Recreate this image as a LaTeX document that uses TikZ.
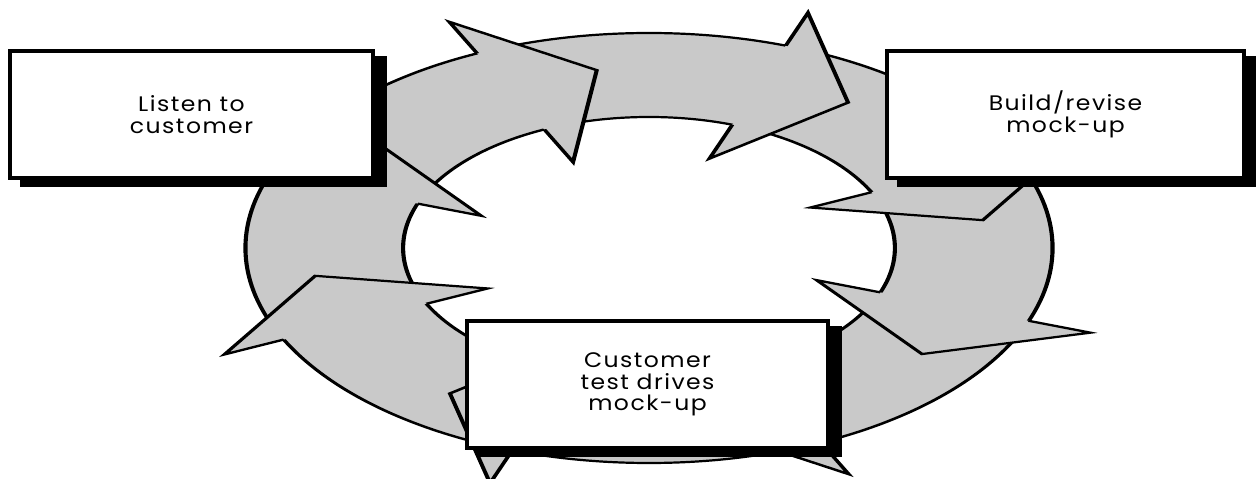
\documentclass[tikz,border=0pt]{standalone}
\usepackage{fontspec}
\newfontfamily\boxfont[FakeStretch=1.12,LetterSpace=7]{Poppins}
\usetikzlibrary{shadows}
\definecolor{ringgray}{RGB}{201,201,201}
\tikzset{
  stagebox/.style={draw=black, line width=4pt, fill=white, rectangle, inner sep=0pt,
    minimum height=127pt, align=center,
    font=\boxfont\fontsize{21}{21.5}\selectfont,
    drop shadow={shadow xshift=12pt, shadow yshift=-7pt, fill=black, draw=black,
      line width=4pt, opacity=1}},
  ringline/.style={line width=2.2pt, line join=miter}
}
\begin{document}
\begin{tikzpicture}[x=1pt,y=1pt]
\useasboundingbox (0,0) rectangle (1256,479);
\fill[white] (0,0) rectangle (1256,479);
\begin{scope}[transform canvas={shift={(649,231)},xscale=1.877}]
  \fill[ringgray,even odd rule] (0,0) circle[radius=215] (0,0) circle[radius=131];
  \draw[ringline] (0,0) circle[radius=215];
  \draw[ringline] (0,0) circle[radius=131];
  \foreach \b in {115.2,70.2,25.2,-19.8,-64.8,-109.8,-154.8,160.2} {
    \fill[ringgray] (\b:215) -- (\b:250) -- ({\b-16.3}:180) -- (\b:95) -- (\b:131) -- cycle;
    \draw[ringline] (\b:215) -- (\b:250) -- ({\b-16.3}:180) -- (\b:95) -- (\b:131);
  }
\end{scope}
\node[stagebox, minimum width=363pt] (listen) at (191.5,364.5) {Listen to\\customer};
\node[stagebox, minimum width=357pt] (build) at (1065.5,364.5) {Build/revise\\mock-up};
\node[stagebox, minimum width=361pt] (test) at (647.5,94.5) {Customer\\test drives\\mock-up};
\end{tikzpicture}
\end{document}
